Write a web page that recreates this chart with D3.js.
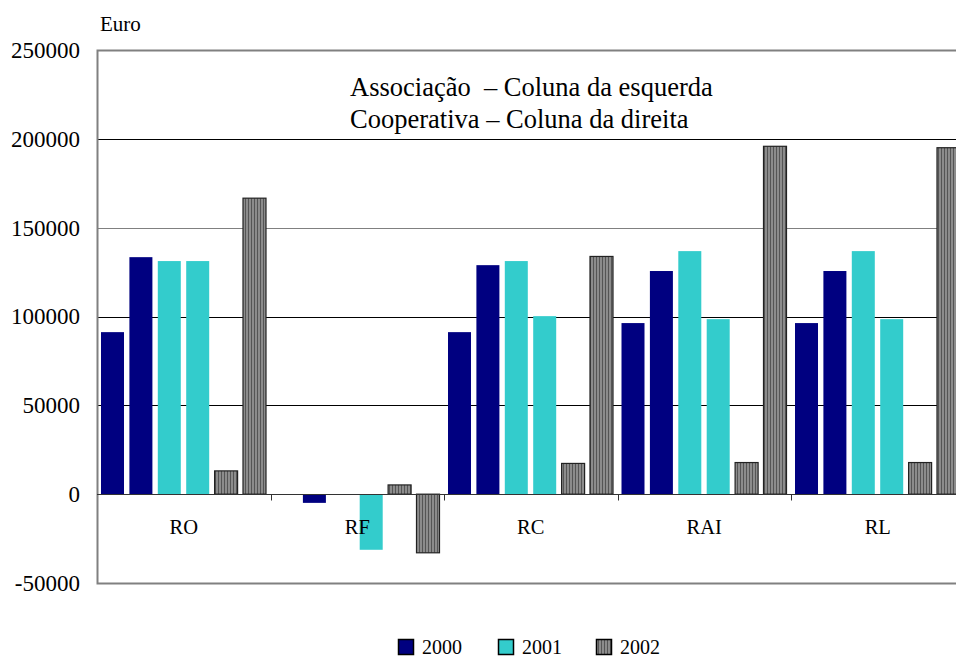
<!DOCTYPE html>
<html>
<head>
<meta charset="utf-8">
<script src="https://cdn.jsdelivr.net/npm/d3@7"></script>
<style>
  body { margin: 0; background: #fff; }
  svg, svg text { font-family: 'Liberation Serif', 'Times New Roman', Times, 'DejaVu Serif', serif; fill: #000; }
</style>
</head>
<body>
<div class="chart"></div>
<script>
var svgWidth = 956;
var svgHeight = 657;
var serifFont = "'Liberation Serif', 'Times New Roman', Times, 'DejaVu Serif', serif";

// regions and series (Associação = left column, Cooperativa = right column of each year)
var categories = ["RO", "RF", "RC", "RAI", "RL"];
var years = ["2000", "2001", "2002"];
var seriesKeys = ["a2000", "c2000", "a2001", "c2001", "a2002", "c2002"];

var assoc2000 = [91200, 0, 91200, 96300, 96300];
var coop2000 = [133400, -4900, 128900, 125600, 125600];
var assoc2001 = [131200, 0, 131200, 136800, 136800];
var coop2001 = [131200, -31300, 100200, 98500, 98500];
var assoc2002 = [13100, 5200, 17300, 17800, 17800];
var coop2002 = [166600, -33000, 133800, 195800, 195000];

var yTicks = [-50000, 0, 50000, 100000, 150000, 200000, 250000];

var seriesValues = [assoc2000, coop2000, assoc2001, coop2001, assoc2002, coop2002];

var margin = { top: 50, left: 97 };
var plotRight = 964.5;
var plotBottom = 583;

var svg = d3.select(".chart")
  .append("svg")
  .attr("width", svgWidth)
  .attr("height", svgHeight)
  .attr("font-family", serifFont);

// stripe pattern for 2002 bars
var defs = svg.append("defs");
var pat = defs.append("pattern")
  .attr("id", "stripes")
  .attr("patternUnits", "userSpaceOnUse")
  .attr("width", 3)
  .attr("height", 10);
pat.append("rect").attr("width", 3).attr("height", 10).attr("fill", "#8c8c8c");
pat.append("rect").attr("x", 2).attr("width", 1).attr("height", 10).attr("fill", "#555");

var fills = {
  "2000": "#000080",
  "2001": "#33CCCC",
  "2002": "url(#stripes)"
};

var x0 = d3.scaleBand()
  .domain(categories)
  .range([margin.left, plotRight]);

var x1 = d3.scaleBand()
  .domain(seriesKeys)
  .range([4, x0.bandwidth() - 4.5])
  .paddingInner(0.19);

var y = d3.scaleLinear()
  .domain([-50000, 250000])
  .range([plotBottom, margin.top]);

// gridlines
svg.append("g")
  .selectAll("line")
  .data([50000, 100000, 150000, 200000])
  .enter().append("line")
  .attr("x1", margin.left)
  .attr("x2", plotRight)
  .attr("y1", d => Math.round(y(d)) + 0.5)
  .attr("y2", d => Math.round(y(d)) + 0.5)
  .attr("stroke", d => d == 150000 ? "#808080" : "#000")
  .attr("stroke-width", 1);

// frame
svg.append("path")
  .attr("d", `M${plotRight},${margin.top + 0.5}H${margin.left + 0.5}V${plotBottom + 0.5}H${plotRight}`)
  .attr("fill", "none")
  .attr("stroke", "#808080")
  .attr("stroke-width", 2);

// bars
var rows = [];
categories.forEach(function(cat, i) {
  seriesKeys.forEach(function(key, j) {
    rows.push({ cat: cat, key: key, year: key.slice(1), value: seriesValues[j][i] });
  });
});

svg.append("g")
  .selectAll("rect")
  .data(rows.filter(d => d.value != 0))
  .enter().append("rect")
  .attr("x", d => x0(d.cat) + x1(d.key))
  .attr("width", x1.bandwidth())
  .attr("y", d => y(Math.max(0, d.value)))
  .attr("height", d => Math.abs(y(d.value) - y(0)))
  .attr("fill", d => fills[d.year])
  .attr("stroke", d => d.year == "2002" ? "#222" : "none")
  .attr("stroke-width", 1.2);

// zero axis line with category ticks
var zeroY = Math.round(y(0)) + 0.5;
svg.append("line")
  .attr("x1", margin.left)
  .attr("x2", plotRight)
  .attr("y1", zeroY)
  .attr("y2", zeroY)
  .attr("stroke", "#333")
  .attr("stroke-width", 1.2);

svg.append("g")
  .selectAll("line")
  .data(categories.slice(1))
  .enter().append("line")
  .attr("x1", d => Math.round(x0(d)) + 0.5)
  .attr("x2", d => Math.round(x0(d)) + 0.5)
  .attr("y1", zeroY)
  .attr("y2", zeroY + 6)
  .attr("stroke", "#333");

// category labels
svg.append("g")
  .selectAll("text")
  .data(categories)
  .enter().append("text")
  .attr("x", d => x0(d) + x0.bandwidth() / 2)
  .attr("y", 534)
  .attr("text-anchor", "middle")
  .attr("font-size", 20.5)
  .text(d => d);

// y axis labels
var leftAxis = d3.axisLeft(y)
  .tickValues(yTicks)
  .tickSize(0)
  .tickPadding(17)
  .tickFormat(d => String(d));

var yAxisG = svg.append("g")
  .attr("transform", `translate(${margin.left}, 0)`)
  .call(leftAxis);
yAxisG.attr("font-family", serifFont).attr("font-size", 23);
yAxisG.select(".domain").remove();
yAxisG.selectAll("text").attr("fill", "#000");

svg.append("text")
  .attr("x", 100)
  .attr("y", 31)
  .attr("font-size", 21)
  .text("Euro");

// note
svg.append("text")
  .attr("x", 350)
  .attr("y", 96)
  .attr("font-size", 26.5)
  .attr("xml:space", "preserve")
  .text("Associação  – Coluna da esquerda");

svg.append("text")
  .attr("x", 350)
  .attr("y", 128)
  .attr("font-size", 26.5)
  .text("Cooperativa – Coluna da direita");

// legend
var legendX = [398, 498, 596];
var legend = svg.append("g")
  .selectAll("g")
  .data(years)
  .enter().append("g")
  .attr("transform", (d, i) => `translate(${legendX[i]}, 639)`);

legend.append("rect")
  .attr("x", 0.5)
  .attr("y", 0.5)
  .attr("width", 15)
  .attr("height", 15)
  .attr("fill", d => fills[d])
  .attr("stroke", "#000")
  .attr("stroke-width", 1.5);

legend.append("text")
  .attr("x", 24)
  .attr("y", 15)
  .attr("font-size", 20)
  .text(d => d);
</script>
</body>
</html>
